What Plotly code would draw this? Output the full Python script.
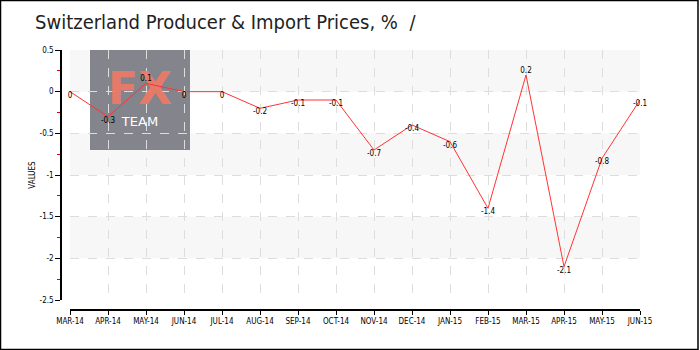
import plotly.graph_objects as go

months = ["MAR-14", "APR-14", "MAY-14", "JUN-14", "JUL-14", "AUG-14", "SEP-14", "OCT-14",
          "NOV-14", "DEC-14", "JAN-15", "FEB-15", "MAR-15", "APR-15", "MAY-15", "JUN-15"]
values = [0, -0.3, 0.1, 0, 0, -0.2, -0.1, -0.1, -0.7, -0.4, -0.6, -1.4, 0.2, -2.1, -0.8, -0.1]
y_ticks = [0.5, 0, -0.5, -1, -1.5, -2, -2.5]
title_text = "Switzerland Producer &amp; Import Prices, % &nbsp;/"
logo_words = ["<b>FX</b>", "TEAM"]

W, H = 700, 350
L, R, T, B = 61, 60, 50, 40
pw, ph = W - L - R, H - T - B
X0, X1 = 70, 640      # pixel span of the category axis
Y0, Y1 = 50, 300      # pixel span of the value axis
ymax, ymin = y_ticks[0], y_ticks[-1]
xidx = list(range(len(months)))

def px(x):
    return (x - L) / pw

def py(y):
    return (H - B - y) / ph

def data_x(pxl):
    return (pxl - X0) / (X1 - X0) * (len(months) - 1)

def data_y(pxl):
    return ymax - (pxl - Y0) / (Y1 - Y0) * (ymax - ymin)

FONT = "DejaVu Sans Condensed"

fig = go.Figure()
# watermark logo text (drawn below the data line)
fig.add_trace(go.Scatter(
    x=[data_x(140), data_x(140)], y=[data_y(93), data_y(123)], mode="text",
    text=logo_words, textposition="middle center",
    textfont=dict(family="DejaVu Sans", size=[44, 13],
                  color=["rgba(240,122,102,0.92)", "#ffffff"]),
    cliponaxis=False, hoverinfo="skip",
))
fig.add_trace(go.Scatter(
    x=xidx, y=values, mode="lines+text",
    line=dict(color="#ff3333", width=1),
    text=[str(v) if v != 0 else "0" for v in values],
    textposition=["top center" if v > 0 else "bottom center" for v in values],
    textfont=dict(family=FONT, size=8, color="#000"),
    cliponaxis=False, hoverinfo="skip",
))

shapes = []
# alternating bands
for i in range(0, len(y_ticks) - 1, 2):
    shapes.append(dict(type="rect", xref="x domain", yref="y", x0=0, x1=1,
                       y0=y_ticks[i + 1], y1=y_ticks[i], fillcolor="#f7f7f7",
                       line=dict(width=0), layer="below"))
# logo box
shapes.append(dict(type="rect", xref="paper", yref="paper", x0=px(90), x1=px(190),
                   y0=py(150), y1=py(50), fillcolor="#7b7b83", line=dict(width=0),
                   layer="between", opacity=0.93))
# outer border
shapes.append(dict(type="rect", xref="paper", yref="paper", x0=px(0.5), x1=px(698),
                   y0=py(349.5), y1=py(0.5), line=dict(color="#000", width=1.5),
                   fillcolor="rgba(0,0,0,0)"))

fig.update_layout(
    width=W, height=H,
    margin=dict(l=L, r=R, t=T, b=B),
    paper_bgcolor="#fff", plot_bgcolor="#fff",
    showlegend=False,
    title=dict(text=title_text, xref="container", yref="container",
               x=35 / W, xanchor="left", y=1 - 22 / H, yanchor="middle",
               font=dict(family=FONT, size=20, color="#222")),
    shapes=shapes,
    xaxis=dict(
        range=[0, len(months) - 1], domain=[px(X0), 1],
        tickvals=xidx, ticktext=months,
        anchor="free", position=0,
        showline=True, linecolor="#000", linewidth=1.5,
        ticks="outside", ticklen=4, tickcolor="#000",
        tickfont=dict(family=FONT, size=8, color="#000"),
        showgrid=True, gridcolor="#dddddd", griddash="dash", gridwidth=1,
        zeroline=False, fixedrange=True,
    ),
    yaxis=dict(
        range=[ymin, ymax], domain=[py(Y1), 1],
        anchor="free", position=0,
        tickvals=y_ticks, ticktext=[("%g" % v) for v in y_ticks],
        showline=True, linecolor="#000", linewidth=1.5,
        ticks="outside", ticklen=5, tickcolor="#000",
        minor=dict(dtick=0.25, tick0=0, ticks="outside", ticklen=3, tickcolor="#e00000", showgrid=False),
        tickfont=dict(family=FONT, size=8, color="#000"),
        showgrid=True, gridcolor="#dddddd", griddash="dash", gridwidth=1,
        zeroline=False, fixedrange=True,
        title=dict(text="VALUES", font=dict(family=FONT, size=8, color="#000"), standoff=2),
    ),
)

fig.write_html("out.html")
